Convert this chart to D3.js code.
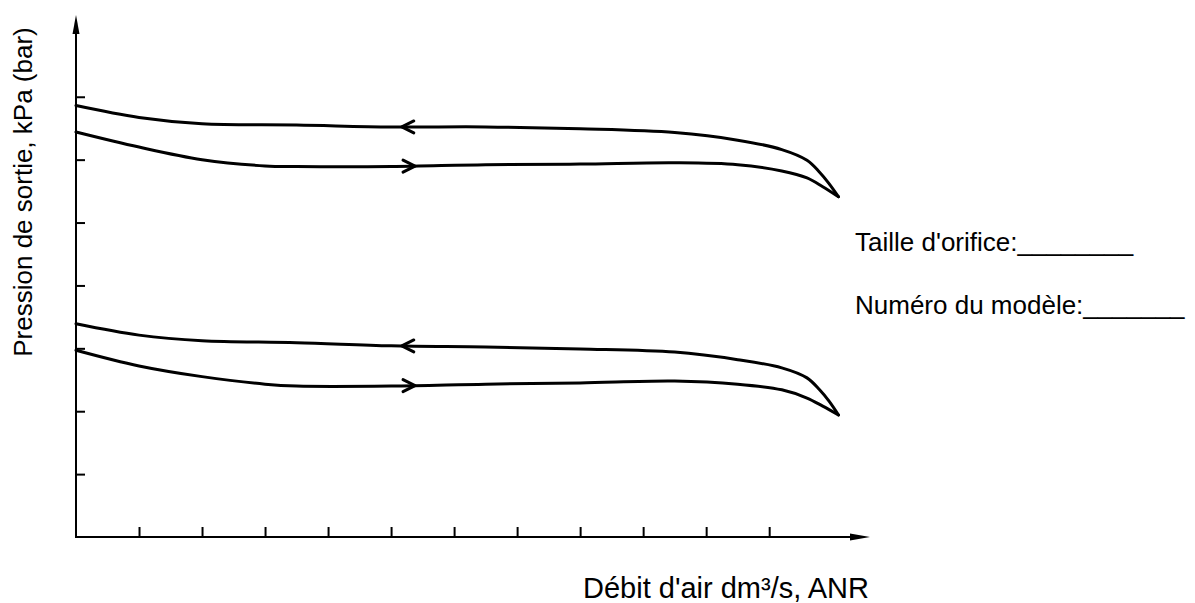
<!DOCTYPE html>
<html>
<head>
<meta charset="utf-8">
<script src="https://cdn.jsdelivr.net/npm/d3@7"></script>
<style>
  html, body { margin: 0; padding: 0; background: #fff; }
  svg { display: block; font-family: "Liberation Sans", Arial, sans-serif; }
</style>
</head>
<body>
<div id="chart"></div>
<script>
// flow in tick units (x), pressure in tick units (y)
const xReturn = [0, 1, 2, 3.5, 5, 6.5, 8, 9.5, 10.5, 11.2, 11.6, 11.8, 11.95, 12.1];
const xForward = [0, 1, 2, 3, 3.5, 5, 6.5, 8, 9.5, 10.5, 11.2, 11.6, 11.85, 12.1];

const highReturn = [6.86, 6.67, 6.57, 6.55, 6.52, 6.52, 6.49, 6.43, 6.31, 6.16, 5.99, 5.8, 5.62, 5.41];
const highForward = [6.44, 6.2, 6.0, 5.9, 5.89, 5.89, 5.92, 5.93, 5.95, 5.92, 5.82, 5.71, 5.57, 5.41];
const lowReturn = [3.39, 3.21, 3.12, 3.09, 3.04, 3.02, 2.99, 2.94, 2.82, 2.69, 2.53, 2.34, 2.16, 1.94];
const lowForward = [2.97, 2.72, 2.55, 2.43, 2.40, 2.40, 2.43, 2.45, 2.48, 2.43, 2.34, 2.21, 2.08, 1.94];

// direction arrows on each curve
const arrowReturnX = 5.17;
const arrowForwardX = 5.38;

const xTicks = [1, 2, 3, 4, 5, 6, 7, 8, 9, 10, 11];
const yTicks = [1, 2, 3, 4, 5, 6, 7];

const yLabel = "Pression de sortie, kPa (bar)";
const xLabel = "Débit d'air dm³/s, ANR";
const notes = ["Taille d'orifice:________", "Numéro du modèle:_______"];

const width = 1195, height = 603;
const margin = { top: 15, right: 325, bottom: 66, left: 76 };

const x = d3.scaleLinear().domain([0, 12.6]).range([margin.left, width - margin.right]);
const y = d3.scaleLinear().domain([0, 8.3]).range([height - margin.bottom, margin.top]);

const svg = d3.select('#chart').append('svg')
  .attr('width', width)
  .attr('height', height);

// axes lines + arrow heads
const x0 = x(0), y0 = y(0);
svg.append('line')
  .attr('x1', x0).attr('y1', y0)
  .attr('x2', x(12.6) - 15).attr('y2', y0)
  .attr('stroke', '#000').attr('stroke-width', 2);
svg.append('line')
  .attr('x1', x0).attr('y1', y0 + 1)
  .attr('x2', x0).attr('y2', y(8.3) + 15)
  .attr('stroke', '#000').attr('stroke-width', 2);

svg.append('path')
  .attr('d', `M${x(12.6)},${y0} L${x(12.6) - 20},${y0 - 3.5} L${x(12.6) - 20},${y0 + 3.5} Z`)
  .attr('fill', '#000');
svg.append('path')
  .attr('d', `M${x0},${y(8.3)} L${x0 - 3.5},${y(8.3) + 19} L${x0 + 3.5},${y(8.3) + 19} Z`)
  .attr('fill', '#000');

// ticks
const xAxis = svg.append('g')
  .attr('transform', `translate(0,${y0})`)
  .call(d3.axisTop(x).tickValues(xTicks).tickSize(10).tickFormat(''));
const yAxis = svg.append('g')
  .attr('transform', `translate(${x0},0)`)
  .call(d3.axisRight(y).tickValues(yTicks).tickSize(9).tickFormat(''));
[xAxis, yAxis].forEach(g => {
  g.select('.domain').remove();
  g.selectAll('.tick line').attr('stroke', '#000').attr('stroke-width', 2);
});

// curves
const line = d3.line()
  .x(d => x(d[0]))
  .y(d => y(d[1]))
  .curve(d3.curveCatmullRom.alpha(0.5));

const curves = [
  { xs: xReturn, ys: highReturn, dir: -1 },
  { xs: xForward, ys: highForward, dir: 1 },
  { xs: xReturn, ys: lowReturn, dir: -1 },
  { xs: xForward, ys: lowForward, dir: 1 }
];

curves.forEach(c => {
  const pts = c.xs.map((v, i) => [v, c.ys[i]]);
  svg.append('path')
    .attr('d', line(pts))
    .attr('fill', 'none')
    .attr('stroke', '#000')
    .attr('stroke-width', 3)
    .attr('stroke-linejoin', 'round')
    .attr('stroke-linecap', 'round');

  // open chevron arrow
  const ax = c.dir < 0 ? arrowReturnX : arrowForwardX;
  const ay = d3.scaleLinear().domain(c.xs).range(c.ys)(ax);
  const tx = x(ax), ty = y(ay);
  const back = -c.dir * 12;
  svg.append('path')
    .attr('d', `M${tx + back},${ty - 6} L${tx},${ty} L${tx + back},${ty + 6}`)
    .attr('fill', 'none')
    .attr('stroke', '#000')
    .attr('stroke-width', 3)
    .attr('stroke-linejoin', 'round')
    .attr('stroke-linecap', 'round');
});

// labels
svg.append('text')
  .attr('transform', `translate(32,${192}) rotate(-90)`)
  .attr('text-anchor', 'middle')
  .attr('font-size', 26)
  .text(yLabel);

svg.append('text')
  .attr('x', 726)
  .attr('y', 598)
  .attr('text-anchor', 'middle')
  .attr('font-size', 29)
  .text(xLabel);

notes.forEach((t, i) => {
  svg.append('text')
    .attr('x', 855)
    .attr('y', 251 + i * 63)
    .attr('font-size', 26)
    .text(t);
});
</script>
</body>
</html>
